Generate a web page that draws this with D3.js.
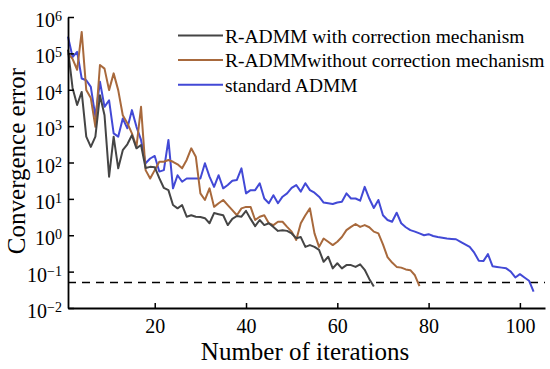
<!DOCTYPE html>
<html lang="en">
<head>
	<meta charset="UTF-8">
	<title>Convergence error</title>
	<script src="https://cdn.jsdelivr.net/npm/d3@7"></script>
	<style>
		body { margin: 0; background: #fff; }
	</style>
</head>
<body>
<script>
	// log10 of the convergence error, one value per iteration (starting at 1)
	var withCorrection = [5.1, 4.05, 3.58, 3.94, 2.71, 2.43, 2.71, 3.85, 3.3, 1.61,
		2.71, 1.84, 2.34, 2.5, 2.75, 2.39, 2.48, 1.85, 1.88, 1.87,
		1.57, 1.3, 1.24, 0.83, 0.74, 0.83, 0.51, 0.55, 0.51, 0.5,
		0.47, 0.33, 0.61, 0.58, 0.55, 0.28, 0.45, 0.53, 0.51, 0.67,
		0.45, 0.25, 0.42, 0.28, 0.33, 0.23, 0.12, 0.14, 0.12, 0.05,
		-0.08, -0.05, -0.32, -0.27, -0.32, -0.4, -0.73, -0.59, -0.91, -0.77,
		-0.91, -0.82, -0.82, -0.87, -0.8, -0.95, -1.2, -1.41];

	var withoutCorrection = [5.0, 4.85, 4.55, 5.59, 3.99, 3.77, 2.98, 4.68, 4.58, 3.99,
		4.45, 3.99, 3.3, 3.08, 2.8, 2.43, 3.53, 1.79, 1.56, 1.79,
		2.02, 2.02, 2.07, 2.02, 1.95, 1.84, 2.07, 2.39, 2.16, 1.15,
		0.97, 1.29, 0.78, 0.88, 0.97, 0.83, 0.69, 0.55, 0.74, 0.78,
		0.78, 0.42, 0.51, 0.55, 0.33, 0.28, 0.37, 0.37, 0.23, 0.1,
		-0.13, 0.33, 0.55, 0.74, 0.05, -0.32, -0.09, -0.18, -0.27, -0.18,
		-0.05, 0.14, 0.23, 0.31, 0.23, 0.28, 0.22, 0.1, 0.05, -0.25,
		-0.6, -0.75, -0.87, -0.89, -0.94, -0.96, -1.1, -1.4];

	var standardADMM = [5.46, 4.9, 5.04, 4.31, 4.26, 4.08, 3.26, 4.22, 3.53, 3.71,
		2.8, 2.71, 3.21, 2.94, 3.44, 2.98, 2.62, 1.98, 2.11, 2.18,
		1.75, 1.79, 2.62, 1.29, 1.65, 1.47, 1.56, 1.56, 1.56, 1.56,
		1.98, 1.61, 1.33, 1.65, 1.29, 1.38, 1.5, 1.52, 1.84, 1.15,
		1.24, 1.24, 1.43, 1.01, 0.88, 1.1, 0.88, 1.06, 1.15, 1.3,
		1.38, 1.2, 1.43, 1.24, 1.17, 1.06, 0.9, 0.88, 0.86, 0.9,
		0.92, 1.15, 1.01, 1.01, 0.95, 1.33, 1.01, 0.75, 0.97, 0.55,
		0.42, 0.37, 0.62, 0.33, 0.22, 0.14, 0.1, 0.05, 0.0, 0.03,
		-0.02, -0.05, -0.07, -0.09, -0.1, -0.11, -0.18, -0.25, -0.32, -0.48,
		-0.7, -0.71, -0.52, -0.85, -0.87, -0.89, -0.91, -1.0, -1.16, -1.07,
		-1.16, -1.25, -1.55];

	var seriesNames = ['R-ADMM with correction mechanism', 'R-ADMMwithout correction mechanism', 'standard ADMM'];
	var seriesColors = ['#454545', '#a8693c', '#4249d6'];
	var xTicks = [20, 40, 60, 80, 100];
	var yExponents = [-2, -1, 0, 1, 2, 3, 4, 5, 6];
	var threshold = 0.05;

	var serif = '"Liberation Serif", "Times New Roman", Times, serif';

	var margin = {top: 17, left: 68, bottom: 61, right: 5};
	var width = 550 - margin.left - margin.right;
	var height = 369 - margin.top - margin.bottom;

	var svg = d3.select('body')
		.append('svg')
		.attr('width', width + margin.left + margin.right)
		.attr('height', height + margin.top + margin.bottom)
		.style('font-family', serif)
		.append('g')
		.attr('transform', 'translate(' + margin.left + ',' + margin.top + ')');

	var x = d3.scaleLinear()
		.domain([1, 105.5])
		.range([0, width]);

	var y = d3.scaleLog()
		.domain([1e-2, 1e6])
		.range([height, 0]);

	// threshold line
	svg.append('line')
		.attr('x1', 0)
		.attr('x2', width)
		.attr('y1', y(threshold))
		.attr('y2', y(threshold))
		.attr('stroke', '#000')
		.attr('stroke-width', 1.6)
		.attr('stroke-dasharray', '8,6');

	var line = d3.line()
		.x(function (d, i) { return x(i + 1); })
		.y(function (d) { return y(Math.pow(10, d)); });

	// draw the blue one first so the others sit on top
	[standardADMM, withoutCorrection, withCorrection].forEach(function (s, k) {
		svg.append('path')
			.datum(s)
			.attr('fill', 'none')
			.attr('stroke', seriesColors[2 - k])
			.attr('stroke-width', 2)
			.attr('stroke-linejoin', 'round')
			.attr('d', line);
	});

	// axes
	var yAxis = svg.append('g')
		.call(d3.axisLeft(y)
			.tickValues(yExponents.map(function (e) { return Math.pow(10, e); }))
			.tickSizeInner(-6)
			.tickSizeOuter(0)
			.tickPadding(6)
			.tickFormat(function () { return ''; }));

	yAxis.selectAll('.tick text')
		.style('font-size', '20px')
		.attr('dy', '0.48em')
		.each(function (d) {
			var t = d3.select(this);
			var e = Math.round(Math.log10(d));
			t.append('tspan').text('10');
			t.append('tspan')
				.attr('dy', -6)
				.style('font-size', '14px')
				.text(e < 0 ? '\u2212' + (-e) : e);
		});

	var xAxis = svg.append('g')
		.attr('transform', 'translate(0,' + height + ')')
		.call(d3.axisBottom(x)
			.tickValues(xTicks)
			.tickSizeInner(-5)
			.tickSizeOuter(0)
			.tickPadding(11));

	xAxis.selectAll('.tick text').style('font-size', '20px');

	[yAxis, xAxis].forEach(function (g) {
		g.select('.domain').attr('stroke-width', 1.8);
		g.selectAll('.tick line').attr('stroke-width', 1.5);
		g.attr('font-family', null);
	});

	// axis titles
	svg.append('text')
		.attr('x', 305 - margin.left)
		.attr('y', height + 52)
		.attr('text-anchor', 'middle')
		.style('font-size', '25px')
		.text('Number of iterations');

	svg.append('text')
		.attr('transform', 'translate(' + (25 - margin.left) + ',' + (161 - margin.top) + ') rotate(-90)')
		.attr('text-anchor', 'middle')
		.style('font-size', '25px')
		.text('Convergence error');

	// legend
	var legend = svg.append('g')
		.attr('transform', 'translate(' + (178 - margin.left) + ',' + (35.5 - margin.top) + ')')
		.selectAll('.info')
		.data(seriesNames)
		.enter().append('g')
		.attr('class', 'info')
		.attr('transform', function (d, i) {
			return 'translate(0,' + (i * 24.6) + ')';
		});
	legend.append('line')
		.attr('x1', 0)
		.attr('x2', 45)
		.attr('stroke', function (d, i) { return seriesColors[i]; })
		.attr('stroke-width', 2);
	legend.append('text')
		.attr('x', 47)
		.attr('y', 7)
		.style('font-size', '19.5px')
		.text(function (d) { return d; });
</script>
</body>
</html>
